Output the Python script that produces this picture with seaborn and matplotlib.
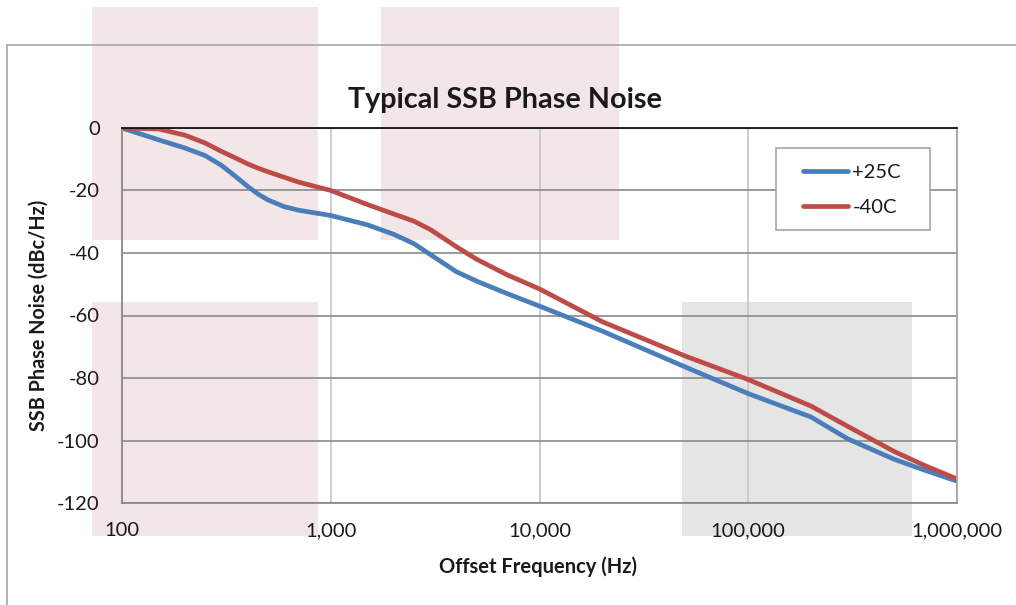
import matplotlib
matplotlib.use("Agg")
import matplotlib.pyplot as plt
import matplotlib.ticker as mticker
from matplotlib.patches import Rectangle
from matplotlib.lines import Line2D
import pandas as pd
import seaborn as sns

# offset frequency (Hz) and phase noise (dBc/Hz)
freq = [100, 150, 200, 250, 300, 350, 400, 450, 500, 600, 700, 1000, 1500, 2000, 2500, 3000,
        4000, 5000, 7000, 10000, 20000, 50000, 100000, 200000, 300000, 500000, 700000, 1000000]
noise_25c = [0, -3.8, -6.4, -8.8, -12, -15.5, -18.7, -21.2, -23, -25.2, -26.3, -28, -31,
             -34, -37, -40.5, -46, -49, -53, -57, -65, -76.5, -85, -92.5, -99.5, -106, -109.5, -113]
noise_m40c = [0, -0.3, -2.3, -4.8, -7.5, -9.6, -11.5, -12.9, -14, -15.8, -17.3, -20, -24.5,
              -27.5, -29.8, -32.5, -38, -42, -47, -51.5, -62, -73, -80.5, -89, -95.5, -103.5, -108, -112.3]
series = ["+25C", "-40C"]
colors = ["#4a7ebb", "#be4b48"]
x_ticks = [100, 1000, 10000, 100000, 1000000]
y_ticks = [0, -20, -40, -60, -80, -100, -120]

df = pd.DataFrame({
    "freq": freq * 2,
    "noise": noise_25c + noise_m40c,
    "temp": [series[0]] * len(freq) + [series[1]] * len(freq),
})

sns.set_theme(style="white")
plt.rcParams["font.family"] = ["Lato", "DejaVu Sans"]
plt.rcParams["axes.unicode_minus"] = False

W, H = 1016, 605
fig = plt.figure(figsize=(W / 100, H / 100), dpi=100)


def px_rect(x0, y0, x1, y1, color, edge="none", z=-3):
    # rectangle in figure pixel coords (top-left origin)
    r = Rectangle((x0 / W, 1 - y1 / H), (x1 - x0) / W, (y1 - y0) / H,
                  transform=fig.transFigure, facecolor=color, edgecolor=edge,
                  lw=1.2, zorder=z)
    fig.patches.append(r)


px_rect(92, 7, 318, 240, "#f3e6e7")
px_rect(381, 7, 619, 240, "#f3e6e7")
px_rect(92, 302, 318, 536, "#f3e6e7")
px_rect(682, 302, 912, 536, "#e5e5e5")

# outer chart frame
fig.lines.append(Line2D([7 / W, 7 / W], [0, 1 - 45 / H], transform=fig.transFigure,
                        color="#a6a6a6", lw=1.2, zorder=-2))
fig.lines.append(Line2D([7 / W, 1], [1 - 45 / H, 1 - 45 / H], transform=fig.transFigure,
                        color="#a6a6a6", lw=1.2, zorder=-2))

ax = fig.add_axes([122 / W, 1 - 503 / H, (957 - 122) / W, (503 - 128) / H])
ax.patch.set_alpha(0)

sns.lineplot(data=df, x="freq", y="noise", hue="temp", palette=colors,
             linewidth=3.4, estimator=None, ax=ax, legend=False,
             solid_joinstyle="round", solid_capstyle="round")

ax.set_xscale("log")
ax.set_xlim(100, 1000000)
ax.set_ylim(-120, 0)
ax.set_xticks(x_ticks)
ax.xaxis.set_major_formatter(mticker.FuncFormatter(lambda v, p: f"{int(round(v)):,}"))
ax.xaxis.set_minor_locator(mticker.NullLocator())
ax.set_yticks(y_ticks)
ax.tick_params(axis="both", length=0, labelsize=14.5, colors="#1a1a1a")
ax.tick_params(axis="y", pad=16)
ax.tick_params(axis="x", pad=14)

ax.grid(axis="y", color="#8a8a8a", lw=1.2)
ax.grid(axis="x", color="#c4c4c4", lw=1.2)
ax.set_axisbelow(True)
for side, c in [("left", "#8a8a8a"), ("bottom", "#8a8a8a"), ("right", "#a6a6a6"), ("top", "#111111")]:
    ax.spines[side].set_visible(True)
    ax.spines[side].set_color(c)
    ax.spines[side].set_linewidth(1.3)

ax.set_xlabel("")
ax.set_ylabel("")
fig.text(505 / W, 1 - 100 / H, "Typical SSB Phase Noise", ha="center", va="center",
         fontsize=20.7, fontweight="bold", color="#1a1a1a")
fig.text(39 / W, 1 - 315 / H, "SSB Phase Noise (dBc/Hz)", ha="center", va="center",
         rotation=90, fontsize=14.2, fontweight="bold", color="#1a1a1a")
fig.text(538 / W, 1 - 567 / H, "Offset Frequency (Hz)", ha="center", va="center",
         fontsize=14.5, fontweight="bold", color="#1a1a1a")

# legend box, then the legend entries without their own frame
px_rect(776, 148, 930, 230, "white", edge="#a6a6a6", z=5)
handles = [Line2D([], [], color=c, lw=3.4) for c in colors]
leg = fig.legend(handles, series, loc="upper left",
                 bbox_to_anchor=(803 / W, 1 - 164 / H), bbox_transform=fig.transFigure,
                 fontsize=14.5, frameon=False, handlelength=2.25,
                 handletextpad=0.2, labelspacing=0.9, borderpad=0, borderaxespad=0)
leg.set_zorder(6)
for t in leg.get_texts():
    t.set_color("#1a1a1a")

fig.savefig("out.png", dpi=100)
